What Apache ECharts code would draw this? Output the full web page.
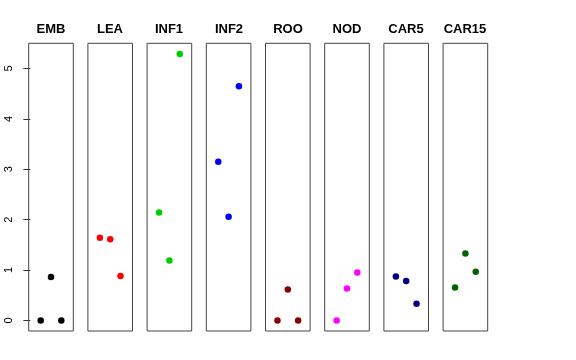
<!DOCTYPE html>
<html>
<head>
<meta charset="utf-8">
<script src="https://cdn.jsdelivr.net/npm/echarts@6/dist/echarts.min.js"></script>
<style>html,body{margin:0;padding:0;background:#fff;}#c{width:576px;height:360px;}</style>
</head>
<body>
<div id="c"></div>
<script>
var panels = ["EMB","LEA","INF1","INF2","ROO","NOD","CAR5","CAR15"];
var colors = ["#000000","#FF0000","#00CD00","#0000FF","#8B0000","#FF00FF","#000080","#006400"];
var xPos = [1,2,3];
var EMB = [0, 0.86, 0];
var LEA = [1.64, 1.61, 0.88];
var INF1 = [2.14, 1.19, 5.29];
var INF2 = [3.15, 2.06, 4.65];
var ROO = [0, 0.615, 0];
var NOD = [0, 0.635, 0.95];
var CAR5 = [0.87, 0.78, 0.33];
var CAR15 = [0.655, 1.33, 0.965];
var yTicks = [0,1,2,3,4,5];
var values = [EMB, LEA, INF1, INF2, ROO, NOD, CAR5, CAR15];

function build() {
  var grids = [], xAxes = [], yAxes = [], series = [], titles = [];
  var left0 = 28.7, step = 59.2, w = 44.6, top = 43.3, h = 287.7;
  for (var i = 0; i < panels.length; i++) {
    var l = left0 + step * i;
    grids.push({left: l, top: top, width: w, height: h, show: true, borderColor: '#444', borderWidth: 1});
    xAxes.push({gridIndex: i, type: 'value', min: -0.16, max: 4.16, show: false});
    var ya = {
      gridIndex: i, type: 'value', min: -0.21, max: 5.50,
      show: i === 0,
      splitLine: {show: false},
      axisLine: {show: false},
      axisTick: {show: true, length: 7, lineStyle: {color: '#333'}},
      axisLabel: {show: true, rotate: 90, fontSize: 11, color: '#000', margin: 14}
    };
    if (i === 0) { ya.axisTick.customValues = yTicks; ya.axisLabel.customValues = yTicks; }
    yAxes.push(ya);
    series.push({
      type: 'scatter', xAxisIndex: i, yAxisIndex: i,
      symbol: 'circle', symbolSize: 6.5,
      itemStyle: {color: colors[i], opacity: 1},
      data: xPos.map(function (x, k) { return [x, values[i][k]]; })
    });
    titles.push({
      text: panels[i], left: Math.round(l + w / 2), top: 23, textAlign: 'center', padding: 0,
      textStyle: {fontSize: 13, fontWeight: 'bold', color: '#000'}
    });
  }
  return {animation: false, title: titles, grid: grids, xAxis: xAxes, yAxis: yAxes, series: series};
}
var chart = echarts.init(document.getElementById('c'));
chart.setOption(build());
</script>
</body>
</html>
